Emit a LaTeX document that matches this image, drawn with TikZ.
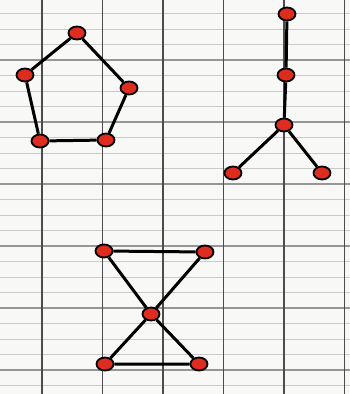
\documentclass[tikz,border=0pt]{standalone}
\usepackage{tikz}
\usetikzlibrary{shapes.geometric}
\definecolor{paper}{RGB}{248,248,246}
\definecolor{rule}{RGB}{150,150,150}
\definecolor{dot}{RGB}{222,45,30}
\tikzset{
  vtx/.style={ellipse,draw=black,line width=1.8pt,fill=dot,minimum width=17pt,minimum height=13pt,inner sep=0pt},
  edge/.style={line width=3pt,black}
}

\begin{document}
\begin{tikzpicture}[x=1pt,y=-1pt]
\fill[paper] (0,0) rectangle (350,394);
\useasboundingbox (0,0) rectangle (350,394);
\foreach \k in {1,...,25} {
  \draw[rule!50,line width=0.8pt] (0,-2+15.5*\k)--(350,-2+15.5*\k);
}
\foreach \k in {1,...,6} {
  \draw[rule,line width=1.2pt] (0,-2+62*\k)--(350,-2+62*\k);
}
\foreach \k in {0,...,5} {
  \draw[black!70,line width=1.2pt] (42+60.5*\k,0)--(42+60.5*\k,394);
}
\node[vtx] (pa) at (77,33) {};
\node[vtx] (pb) at (25,75) {};
\node[vtx] (pc) at (40,141) {};
\node[vtx] (pd) at (106,140) {};
\node[vtx] (pe) at (129,88) {};
\draw[edge] (pa)--(pb) (pb)--(pc) (pc)--(pd) (pd)--(pe) (pe)--(pa);
\node[vtx] (ta) at (287,14) {};
\node[vtx] (tb) at (286,75) {};
\node[vtx] (tc) at (284,125) {};
\node[vtx] (td) at (233,173) {};
\node[vtx] (te) at (322,173) {};
\draw[edge] (ta)--(tb) (tb)--(tc) (tc)--(td) (tc)--(te);
\node[vtx] (ba) at (104,251) {};
\node[vtx] (bb) at (205,252) {};
\node[vtx] (bc) at (151,314) {};
\node[vtx] (bd) at (105,364) {};
\node[vtx] (be) at (199,364) {};
\draw[edge] (ba)--(bb) (ba)--(bc) (bb)--(bc) (bc)--(bd) (bc)--(be) (bd)--(be);
\end{tikzpicture}
\end{document}
